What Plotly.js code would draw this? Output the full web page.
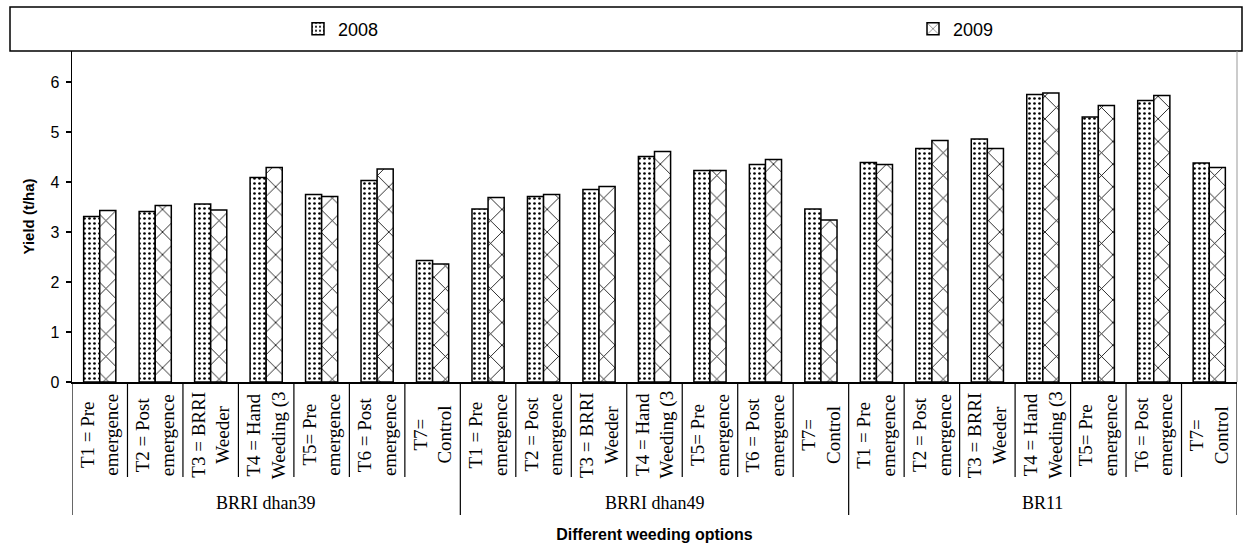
<!DOCTYPE html>
<html>
<head>
<meta charset="utf-8">
<script src="https://cdn.plot.ly/plotly-3.0.1.min.js"></script>
<style>html,body{margin:0;padding:0;background:#fff}#chart{width:1243px;height:548px}</style>
</head>
<body>
<div id="chart"></div>
<script>
const groups = ["BRRI dhan39", "BRRI dhan49", "BR11"];
const treatments = [
  "T1 = Pre<br>emergence",
  "T2 = Post<br>emergence",
  "T3 = BRRI<br>Weeder",
  "T4 = Hand<br>Weeding (3",
  "T5= Pre<br>emergence",
  "T6 = Post<br>emergence",
  "T7=<br>Control"
];
const seriesNames = ["2008", "2009"];
const yield2008 = [3.31, 3.41, 3.56, 4.09, 3.75, 4.03, 2.43,
                   3.46, 3.71, 3.85, 4.51, 4.23, 4.35, 3.46,
                   4.39, 4.67, 4.86, 5.75, 5.30, 5.63, 4.38];
const yield2009 = [3.43, 3.53, 3.44, 4.29, 3.71, 4.26, 2.36,
                   3.69, 3.75, 3.91, 4.61, 4.23, 4.45, 3.24,
                   4.35, 4.83, 4.67, 5.78, 5.53, 5.73, 4.29];
const yTitle = "Yield (t/ha)";
const xTitle = "Different weeding options";

// build unique category keys
const cats = [];
const catLabel = [];
groups.forEach(g => treatments.forEach(t => { cats.push(g + " | " + t.replace("<br>", " ")); catLabel.push(t); }));

const W = 1243, H = 548;
const plotLeft = 72, plotRight = 1237, plotTop = 51, plotBottom = 382;
const plotW = plotRight - plotLeft, plotH = plotBottom - plotTop;
const pyPx = px => (plotBottom - px) / plotH;  // pixel row -> paper y
const pxPx = px => (px - plotLeft) / plotW;    // pixel col -> paper x

const serif = "Liberation Serif, Times New Roman, serif";
const sans = "Arial, Liberation Sans, sans-serif";

const traces = [
  {
    type: "bar", name: seriesNames[0], x: cats, y: yield2008, legend: "legend",
    marker: {color: "#ffffff", line: {color: "#000", width: 1.5},
      pattern: {shape: ".", fgcolor: "#000", bgcolor: "#fff", size: 5, solidity: 0.22}}
  },
  {
    type: "bar", name: seriesNames[1], x: cats, y: yield2009, legend: "legend2",
    marker: {color: "#ffffff", line: {color: "#000", width: 1.5},
      pattern: {shape: "x", fgcolor: "#000", bgcolor: "#fff", size: 16, solidity: 0.1}}
  }
];

const shapes = [];
const annotations = [];
// legend frame
shapes.push({type: "rect", xref: "paper", yref: "paper", x0: pxPx(10), x1: pxPx(1242),
  y0: 1, y1: pyPx(7), line: {color: "#000", width: 1.5}, fillcolor: "rgba(0,0,0,0)", layer: "above"});
// right border of plot area
shapes.push({type: "line", xref: "paper", yref: "paper", x0: 1, x1: 1, y0: 0, y1: 1, line: {color: "#999", width: 1}});
// category dividers
for (let i = 0; i <= cats.length; i++) {
  const isGroup = i % treatments.length === 0;
  shapes.push({type: "line", xref: "x", yref: "paper", x0: i - 0.5, x1: i - 0.5,
    y0: 0, y1: isGroup ? pyPx(515) : pyPx(477), line: {color: "#000", width: 1.2}});
}
// category labels
cats.forEach((c, i) => {
  annotations.push({xref: "x", yref: "paper", x: c, y: pyPx(435), text: catLabel[i], textangle: -90,
    showarrow: false, xanchor: "center", yanchor: "middle", align: "center",
    font: {family: serif, size: 19, color: "#000"}});
});
// group labels
groups.forEach((g, k) => {
  annotations.push({xref: "x", yref: "paper", x: cats[k * treatments.length + 3], y: pyPx(503), text: g,
    showarrow: false, xanchor: "center", yanchor: "middle",
    font: {family: serif, size: 18, color: "#000"}});
});

const legendCommon = {orientation: "h", xanchor: "left", y: pyPx(29), yanchor: "middle",
  font: {family: sans, size: 18, color: "#000"}, bgcolor: "rgba(0,0,0,0)", borderwidth: 0};

const layout = {
  width: W, height: H,
  margin: {l: plotLeft, r: W - plotRight, t: plotTop, b: H - plotBottom, pad: 0},
  paper_bgcolor: "#fff", plot_bgcolor: "#fff",
  barmode: "group", bargap: 0.42, bargroupgap: 0,
  showlegend: true,
  legend: Object.assign({}, legendCommon, {x: pxPx(298)}),
  legend2: Object.assign({}, legendCommon, {x: pxPx(913)}),
  xaxis: {
    type: "category", showticklabels: false, ticks: "", showgrid: false, zeroline: false,
    showline: true, linecolor: "#000", linewidth: 1.5, range: [-0.5, cats.length - 0.5],
    title: {text: xTitle, standoff: 146, font: {family: sans, size: 16, color: "#000", weight: "bold"}},
    automargin: false
  },
  yaxis: {
    range: [0, 6.62], dtick: 1, tick0: 0, ticks: "outside", ticklen: 5, tickwidth: 1.2, tickcolor: "#000",
    showgrid: false, zeroline: false, showline: true, linecolor: "#000", linewidth: 1.5,
    ticklabelstandoff: 3,
    tickfont: {family: sans, size: 16, color: "#000"},
    title: {text: yTitle, standoff: 12, font: {family: sans, size: 15, color: "#000", weight: "bold"}},
    automargin: false
  },
  shapes: shapes,
  annotations: annotations
};

Plotly.newPlot("chart", traces, layout, {displayModeBar: false, staticPlot: true});
</script>
</body>
</html>
